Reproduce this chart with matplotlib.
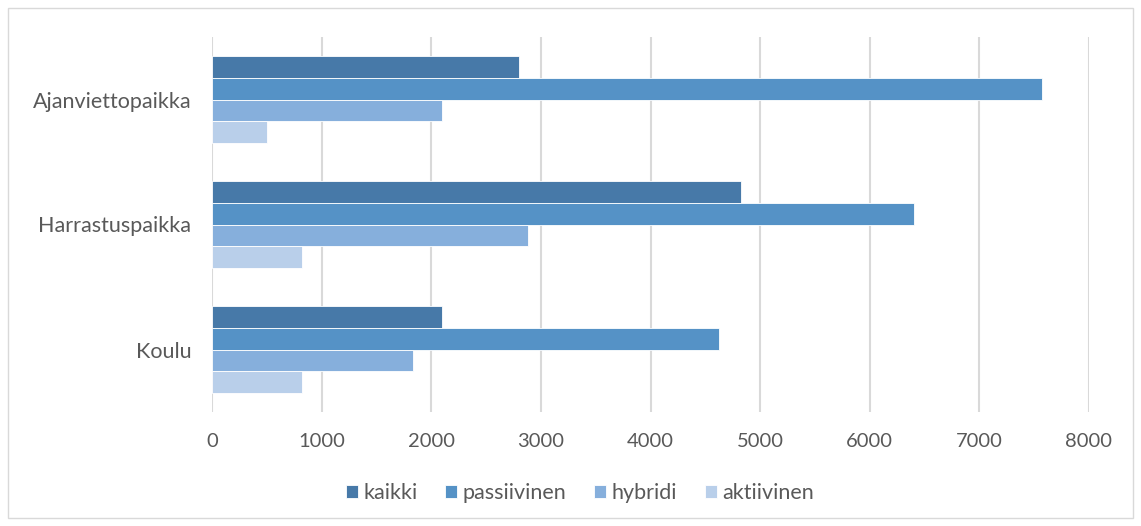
import numpy as np
import matplotlib.pyplot as plt
from matplotlib.patches import Rectangle

# data
categories = ["Ajanviettopaikka", "Harrastuspaikka", "Koulu"]
series_names = ["kaikki", "passiivinen", "hybridi", "aktiivinen"]
kaikki = [2800, 4830, 2100]
passiivinen = [7570, 6400, 4625]
hybridi = [2100, 2880, 1830]
aktiivinen = [500, 820, 825]
xticks = [0, 1000, 2000, 3000, 4000, 5000, 6000, 7000, 8000]

colors = ["#4779A8", "#5592C6", "#86AFDC", "#B9CFEA"]
text_col = "#595959"
grid_col = "#D9D9D9"

plt.rcParams["font.family"] = ["Lato", "DejaVu Sans"]

fig = plt.figure(figsize=(11.41, 5.26), dpi=100)
ax = fig.add_axes([212 / 1141, 1 - 412 / 526, (1089 - 212) / 1141, (412 - 37) / 526])

values = [kaikki, passiivinen, hybridi, aktiivinen]
n = len(series_names)
group = 0.69
h = group / n
y = np.arange(len(categories))
for i, (name, vals) in enumerate(zip(series_names, values)):
    pos = y - group / 2 + h * (i + 0.5)
    ax.barh(pos, vals, height=h, color=colors[i], edgecolor="#ffffff",
            linewidth=0.6, label=name, zorder=3)

ax.set_ylim(len(categories) - 0.5, -0.5)
ax.set_xlim(0, 8000)
ax.set_yticks(y)
ax.set_yticklabels(categories, fontsize=15.5)
ax.set_xticks(xticks)
ax.set_xticklabels([str(t) for t in xticks], fontsize=14.5)
ax.tick_params(axis="both", length=0, colors=text_col)
ax.tick_params(axis="y", pad=15)
ax.tick_params(axis="x", pad=15)
ax.grid(axis="x", color=grid_col, linewidth=1.5, zorder=0)
for s in ax.spines.values():
    s.set_visible(False)

leg = fig.legend(loc="center", bbox_to_anchor=(580 / 1141, 1 - 493 / 526), ncol=4,
                 frameon=False, fontsize=15.5, handlelength=0.55, handleheight=0.55,
                 handletextpad=0.25, columnspacing=1.3)
for t in leg.get_texts():
    t.set_color(text_col)

fig.patches.append(Rectangle((8 / 1141, 8 / 526), 1 - 16 / 1141, 1 - 16 / 526,
                             transform=fig.transFigure, fill=False,
                             edgecolor=grid_col, linewidth=1))

fig.savefig("out.png", dpi=100, facecolor="white")
